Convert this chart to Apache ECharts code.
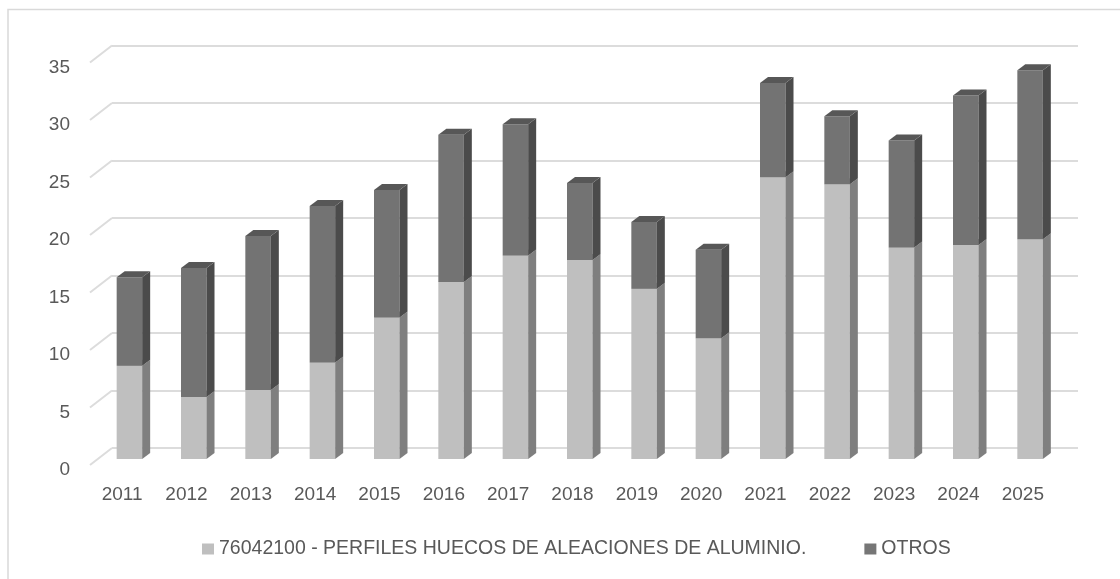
<!DOCTYPE html>
<html>
<head>
<meta charset="utf-8">
<script src="https://cdn.jsdelivr.net/npm/echarts@6/dist/echarts.min.js"></script>
<style>html,body{margin:0;padding:0;background:#fff;}#c{width:1120px;height:579px;}</style>
</head>
<body>
<div id="c"></div>
<script>
// ---- data ----
var years = ['2011','2012','2013','2014','2015','2016','2017','2018','2019','2020','2021','2022','2023','2024','2025'];
var perfiles = [8.1, 5.4, 6.0, 8.4, 12.3, 15.4, 17.7, 17.3, 14.8, 10.5, 24.5, 23.9, 18.4, 18.6, 19.1];
var otros = [7.7, 11.2, 13.4, 13.6, 11.1, 12.8, 11.4, 6.7, 5.8, 7.7, 8.2, 5.9, 9.3, 13.0, 14.7];
var yTicks = [0, 5, 10, 15, 20, 25, 30, 35];
var seriesNames = ['76042100 - PERFILES HUECOS DE ALEACIONES DE ALUMINIO.', 'OTROS'];

var FONT = '"Liberation Sans", Arial, sans-serif';
var TXT = '#595959';

function segData(baseArr, valArr) {
  return valArr.map(function (v, i) {
    var b = baseArr ? baseArr[i] : 0;
    return [i, b, b + v];
  });
}

function bar3d(frontColor, sideColor, topColor) {
  return function (params, api) {
    var i = api.value(0);
    var p0 = api.coord([i, api.value(1)]);
    var p1 = api.coord([i, api.value(2)]);
    var W = 25.5, DX = 8, DY = 6;
    var L = p0[0] - 5.5;
    var yb = p0[1], yt = p1[1];
    return {
      type: 'group',
      children: [
        { type: 'rect', shape: { x: L, y: yt, width: W, height: yb - yt }, style: { fill: frontColor } },
        { type: 'polygon', shape: { points: [[L + W, yt], [L + W + DX, yt - DY], [L + W + DX, yb - DY], [L + W, yb]] }, style: { fill: sideColor } },
        { type: 'polygon', shape: { points: [[L, yt], [L + W, yt], [L + W + DX, yt - DY], [L + DX, yt - DY]] }, style: { fill: topColor } }
      ]
    };
  };
}

var chart = echarts.init(document.getElementById('c'), null, { renderer: 'canvas' });
var option = {
  backgroundColor: '#ffffff',
  animation: false,
  graphic: [
    { type: 'rect', shape: { x: 8, y: 9.5, width: 1300, height: 800 }, style: { fill: 'none', stroke: '#d9d9d9', lineWidth: 1.5 }, z: -10 }
  ],
  legend: {
    left: 202, top: 539, padding: 0,
    itemWidth: 12, itemHeight: 11, itemGap: 58,
    icon: 'rect',
    textStyle: { fontFamily: FONT, fontSize: 19.5, color: TXT },
    data: seriesNames
  },
  grid: [
    { left: 90, right: 65, top: 56.5, bottom: 120 },
    { left: 112, right: 42, top: 45.5, bottom: 131 }
  ],
  xAxis: [
    { type: 'category', gridIndex: 0, data: years,
      axisLine: { show: false }, axisTick: { show: false },
      axisLabel: { fontFamily: FONT, fontSize: 19, color: TXT, margin: 26 } },
    { type: 'value', gridIndex: 1, min: 0, max: 1, show: false }
  ],
  yAxis: [
    { type: 'value', gridIndex: 0, min: 0, max: 35, interval: 5,
      axisLine: { show: false }, axisTick: { show: false }, splitLine: { show: false },
      axisLabel: { fontFamily: FONT, fontSize: 19, color: TXT, margin: 20,
        formatter: '{a|{value}}', rich: { a: { fontFamily: FONT, fontSize: 19, color: TXT, padding: [22, 0, 0, 0] } } } },
    { type: 'value', gridIndex: 1, min: 0, max: 35, interval: 5,
      axisLine: { show: false }, axisTick: { show: false }, axisLabel: { show: false },
      splitLine: { show: true, lineStyle: { color: '#dcdcdc', width: 2 } } }
  ],
  series: [
    {
      type: 'custom', name: 'floorLines', xAxisIndex: 1, yAxisIndex: 1, silent: true, z: 1,
      data: yTicks.map(function (v) { return [0, v]; }),
      renderItem: function (params, api) {
        var p = api.coord([0, api.value(1)]);
        var x0 = params.coordSys.x;
        return { type: 'line', shape: { x1: x0, y1: p[1], x2: x0 - 22, y2: p[1] + 17 }, style: { stroke: '#dcdcdc', lineWidth: 2 } };
      }
    },
    {
      type: 'custom', name: seriesNames[0], xAxisIndex: 0, yAxisIndex: 0, z: 3,
      itemStyle: { color: '#bfbfbf' },
      data: segData(null, perfiles),
      renderItem: bar3d('#bfbfbf', '#7f7f7f', '#a6a6a6')
    },
    {
      type: 'custom', name: seriesNames[1], xAxisIndex: 0, yAxisIndex: 0, z: 4,
      itemStyle: { color: '#767676' },
      data: segData(perfiles, otros),
      renderItem: bar3d('#737373', '#4b4b4b', '#575757')
    }
  ]
};
chart.setOption(option);
</script>
</body>
</html>
